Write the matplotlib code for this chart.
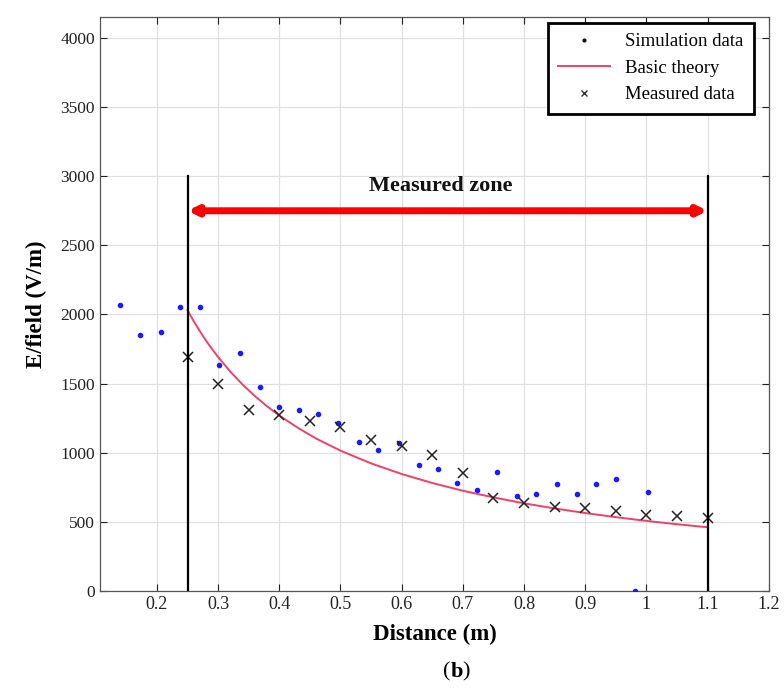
import matplotlib
matplotlib.use("Agg")
import matplotlib.pyplot as plt
from matplotlib.lines import Line2D

plt.rcParams['font.family'] = ['Liberation Serif', 'DejaVu Serif']

# Simulation data (blue dots)
sim_x = [0.140, 0.173, 0.206, 0.238, 0.271, 0.301, 0.335, 0.368, 0.400, 0.432,
         0.464, 0.496, 0.530, 0.562, 0.595, 0.628, 0.660, 0.691, 0.723, 0.756,
         0.789, 0.820, 0.854, 0.887, 0.918, 0.950, 0.982, 1.003]
sim_y = [2072, 1855, 1874, 2053, 2053, 1638, 1722, 1476, 1331, 1309,
         1283, 1215, 1080, 1017, 1070, 911, 884, 780, 734, 860,
         688, 703, 771, 703, 775, 809, 0, 715]

# Measured data (x markers)
meas_x = [0.25, 0.30, 0.35, 0.40, 0.45, 0.50, 0.55, 0.60, 0.65, 0.70,
          0.75, 0.80, 0.85, 0.90, 0.95, 1.00, 1.05, 1.10]
meas_y = [1691, 1498, 1312, 1275, 1232, 1186, 1094, 1051, 986, 855,
          676, 640, 606, 599, 575, 551, 539, 527]

# Basic theory curve
theory_x = [0.25, 0.26, 0.27, 0.28, 0.29, 0.30, 0.32, 0.34, 0.36, 0.38,
            0.40, 0.43, 0.46, 0.50, 0.55, 0.60, 0.65, 0.70, 0.75, 0.80,
            0.85, 0.90, 0.95, 1.00, 1.05, 1.10]
theory_y = [2030, 1952, 1880, 1812, 1750, 1692, 1586, 1493, 1410, 1336,
            1269, 1181, 1103, 1015, 923, 846, 781, 725, 677, 634,
            597, 564, 534, 507, 483, 461]

zone = [0.25, 1.10]
zone_top = 3000
arrow_y = 2750

xticks = [0.2, 0.3, 0.4, 0.5, 0.6, 0.7, 0.8, 0.9, 1.0, 1.1, 1.2]
xticklabels = ['0.2', '0.3', '0.4', '0.5', '0.6', '0.7', '0.8', '0.9', '1', '1.1', '1.2']
yticks = [0, 500, 1000, 1500, 2000, 2500, 3000, 3500, 4000]

fig = plt.figure(figsize=(7.84, 6.88), dpi=100)
ax = fig.add_axes([0.1276, 0.141, 0.853, 0.834])

ax.set_xlim(0.107, 1.2)
ax.set_ylim(0, 4150)
ax.set_xticks(xticks)
ax.set_xticklabels(xticklabels)
ax.set_yticks(yticks)
ax.grid(True, color='#e0e0e0', lw=0.9)
ax.set_axisbelow(True)
ax.tick_params(direction='in', top=True, right=True, length=5, labelsize=12.5,
               colors='#222222', labelcolor='#222222')
ax.tick_params(axis='x', labelsize=13)
for s in ax.spines.values():
    s.set_color('#555555')
    s.set_linewidth(0.9)

ax.plot(sim_x, sim_y, linestyle='none', marker='o', ms=3.0, color='#1a1aff',
        zorder=3)
ax.plot(theory_x, theory_y, color='#f0406a', lw=1.4, zorder=3)
ax.plot(meas_x, meas_y, linestyle='none', marker='x', ms=7, mew=1.1,
        color='#222222', zorder=4)

for zx in zone:
    ax.plot([zx, zx], [0, zone_top], color='black', lw=1.6, zorder=5)

ax.annotate('', xy=(zone[1], arrow_y), xytext=(zone[0], arrow_y),
            arrowprops=dict(arrowstyle='<|-|>', color='#ff0000', lw=5,
                            mutation_scale=12, shrinkA=0, shrinkB=0),
            zorder=6)
ax.text(0.664, 2928, 'Measured zone', ha='center', va='center',
        fontsize=16, fontweight='bold', color='#111111')

ax.set_xlabel('Distance (m)', fontsize=16.5, fontweight='bold', labelpad=8)
ax.set_ylabel('E/field (V/m)', fontsize=16.5, fontweight='bold', labelpad=10)

handles = [
    Line2D([], [], linestyle='none', marker='o', ms=2, color='#111111'),
    Line2D([], [], color='#f0406a', lw=1.4),
    Line2D([], [], linestyle='none', marker='x', ms=5, mew=1, color='#333333'),
]
labels = ['Simulation data', 'Basic theory', 'Measured data']
leg = ax.legend(handles, labels, loc='upper right', bbox_to_anchor=(0.978, 0.99),
                borderaxespad=0,
                fontsize=13.5, frameon=True, fancybox=False, framealpha=1,
                edgecolor='black', borderpad=0.55, handlelength=2.8,
                labelspacing=0.5)
leg.get_frame().set_linewidth(2)

fig.text(0.575, 0.023, '(', fontsize=16, ha='right', va='center')
fig.text(0.575, 0.023, 'b', fontsize=16, fontweight='bold', ha='left', va='center')
fig.text(0.589, 0.023, ')', fontsize=16, ha='left', va='center')

fig.savefig('out.png', dpi=100, facecolor='white')
